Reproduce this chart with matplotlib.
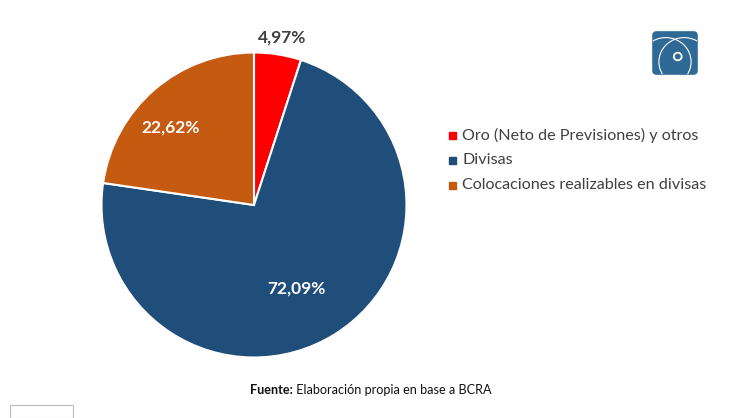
import matplotlib

matplotlib.use("Agg")
import matplotlib.pyplot as plt
from matplotlib.patches import Circle, FancyBboxPatch, Rectangle

# ── Data ───────────────────────────────────────────────────────────────
categories = [
    "Oro (Neto de Previsiones) y otros",
    "Divisas",
    "Colocaciones realizables en divisas",
]
shares = [4.97, 72.09, 22.62]
pct_labels = ["4,97%", "72,09%", "22,62%"]
colors = ["#fe0000", "#1f4e7a", "#c55a11"]
source_bold = "Fuente:"
source_text = " Elaboración propia en base a BCRA"

W, H = 734, 418
plt.rcParams["font.family"] = ["Lato", "DejaVu Sans"]

fig = plt.figure(figsize=(W / 100, H / 100), dpi=100)


def px_axes(x0, y0, w, h):
    """Axes from pixel box measured from the top-left corner."""
    return fig.add_axes([x0 / W, 1 - (y0 + h) / H, w / W, h / H])


# ── Pie ────────────────────────────────────────────────────────────────
R = 152.5
cx, cy = 254, 205
ax = px_axes(cx - R, cy - R, 2 * R, 2 * R)
wedges, _ = ax.pie(
    shares,
    colors=colors,
    startangle=90,
    counterclock=False,
    radius=1,
    wedgeprops=dict(edgecolor="white", linewidth=1.5),
)
ax.set_xlim(-1, 1)
ax.set_ylim(-1, 1)
ax.set_aspect("equal")
ax.axis("off")

# label positions in pie units (relative to centre)
label_pos = [(0.184, 1.095), (0.28, -0.55), (-0.544, 0.51)]
label_col = ["#404040", "white", "white"]
for txt, (lx, ly), c in zip(pct_labels, label_pos, label_col):
    ax.text(lx, ly, txt, ha="center", va="center", fontsize=12.5,
            fontweight="bold", color=c, clip_on=False)

# ── Legend ─────────────────────────────────────────────────────────────
leg_y = [135, 160, 185]
for name, c, y in zip(categories, colors, leg_y):
    fig.patches.append(Rectangle(((449) / W, 1 - (y + 4) / H), 7 / W, 7 / H,
                                 transform=fig.transFigure, color=c))
    fig.text(462 / W, 1 - y / H, name, ha="left", va="center",
             fontsize=11.6, color="#404040")

# ── Source note ────────────────────────────────────────────────────────
t = fig.text(250 / W, 1 - 390 / H, source_bold, ha="left", va="center",
             fontsize=9.1, fontweight="bold", color="#111111")
fig.canvas.draw()
bb = t.get_window_extent()
fig.text(bb.x1 / W, 1 - 390 / H, source_text, ha="left", va="center",
         fontsize=9.1, color="#111111")

# ── Logo ───────────────────────────────────────────────────────────────
lax = px_axes(652, 31, 46, 44)
lax.set_xlim(0, 1)
lax.set_ylim(0, 1)
lax.axis("off")
lax.add_patch(FancyBboxPatch((0.02, 0.02), 0.96, 0.96,
                             boxstyle="round,pad=0,rounding_size=0.08",
                             color="#2f6a97"))
lax.add_patch(Circle((0.3, 0.3), 0.55, fill=False, ec="white", lw=0.8, clip_on=True))
lax.add_patch(Circle((0.7, 0.3), 0.55, fill=False, ec="white", lw=0.8, clip_on=True))
for p in lax.patches[1:]:
    p.set_clip_path(lax.patches[0])
lax.add_patch(Circle((0.56, 0.42), 0.09, color="white"))
lax.add_patch(Circle((0.56, 0.42), 0.05, color="#2f6a97"))

# small box at the bottom-left corner
fig.patches.append(Rectangle((10 / W, 0), 63 / W, 13 / H, transform=fig.transFigure,
                             fill=False, ec="#bbbbbb", lw=0.8))

fig.savefig("out.png", dpi=100)
